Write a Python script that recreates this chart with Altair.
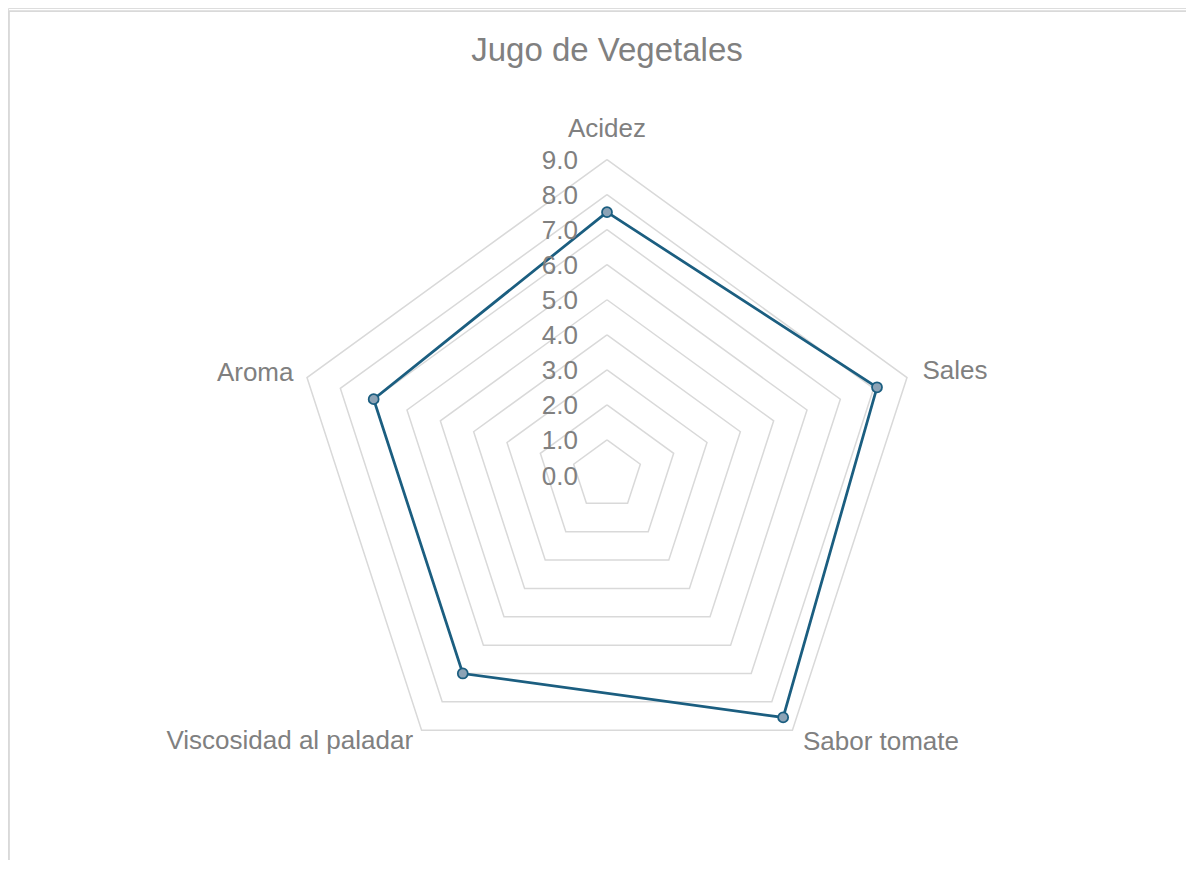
import altair as alt
import pandas as pd

# ---- data ----
categories = ["Acidez", "Sales", "Sabor tomate", "Viscosidad al paladar", "Aroma"]
values = [7.5, 8.1, 8.55, 7.0, 7.0]
grid_levels = [1, 2, 3, 4, 5, 6, 7, 8, 9]
tick_levels = [0, 1, 2, 3, 4, 5, 6, 7, 8, 9]
title_text = "Jugo de Vegetales"

# ---- layout (pixels) ----
W, H = 1178, 852
CX, CY = 599, 467          # centre of radar inside the view
PPU = 35.05                # pixels per unit
N = len(categories)
RMAX = max(grid_levels)

xs = alt.Scale(domain=[-CX / PPU, (W - CX) / PPU], nice=False, zero=False)
ys = alt.Scale(domain=[-(H - CY) / PPU, CY / PPU], nice=False, zero=False)

TEXT = "#808080"
GRID = "#d9d9d9"
LINE = "#1b5e80"
MFILL = "#8ca3b6"
FONT = "Liberation Sans"

ang = f"datum.idx * 2 * PI / {N}"


def enc():
    return dict(
        x=alt.X("x:Q", scale=xs, axis=None),
        y=alt.Y("y:Q", scale=ys, axis=None),
    )


# tables built from the arrays
series_df = pd.DataFrame({
    "cat": categories + [categories[0]],
    "value": values + [values[0]],
    "idx": list(range(N)) + [N],
})
grid_df = pd.DataFrame([{"level": l, "idx": i} for l in grid_levels for i in range(N + 1)])
label_df = pd.DataFrame({"cat": categories, "idx": list(range(N)), "value": [RMAX] * N})
tick_df = pd.DataFrame({"value": tick_levels, "idx": [0] * len(tick_levels)})

grid = alt.Chart(grid_df).transform_calculate(
    x=f"datum.level * sin({ang})", y=f"datum.level * cos({ang})"
).mark_line(color=GRID, strokeWidth=1.5).encode(
    detail="level:N", order=alt.Order("idx:Q"), **enc()
)

series_base = alt.Chart(series_df).transform_calculate(
    x=f"datum.value * sin({ang})", y=f"datum.value * cos({ang})"
)
line = series_base.mark_line(color=LINE, strokeWidth=2.75).encode(
    order=alt.Order("idx:Q"), **enc()
)
points = series_base.transform_filter(f"datum.idx < {N}").mark_point(
    filled=True, fill=MFILL, fillOpacity=1, stroke=LINE, strokeWidth=1.75, size=100, opacity=1
).encode(**enc())

ticks = alt.Chart(tick_df).transform_calculate(
    x="0", y="datum.value", lab="format(datum.value, '.1f')"
).mark_text(
    align="right", baseline="alphabetic", dx=-29, dy=9.5, fontSize=26, font=FONT, color=TEXT
).encode(text="lab:N", **enc())

# category labels, placement per position around the pentagon
label_style = [
    dict(align="center", dx=0, dy=-22.5),
    dict(align="left", dx=15.5, dy=1.5),
    dict(align="left", dx=10.5, dy=20),
    dict(align="right", dx=-8.5, dy=19),
    dict(align="right", dx=-13.5, dy=3),
]
label_layers = []
for i, cat in enumerate(categories):
    st = label_style[i]
    label_layers.append(
        alt.Chart(label_df).transform_filter(f"datum.idx == {i}").transform_calculate(
            x=f"datum.value * sin({ang})", y=f"datum.value * cos({ang})"
        ).mark_text(
            align=st["align"], baseline="alphabetic", dx=st["dx"], dy=st["dy"],
            fontSize=26, font=FONT, color=TEXT
        ).encode(text="cat:N", **enc())
    )

title = alt.Chart(pd.DataFrame({"t": [title_text]})).transform_calculate(
    x="0", y=f"{(CY - 53) / PPU}"
).mark_text(
    align="center", baseline="alphabetic", fontSize=33, font=FONT, color=TEXT
).encode(text="t:N", **enc())

frame_top = alt.Chart(pd.DataFrame({"a": [0]})).mark_rule(color=GRID, strokeWidth=1.75).encode(
    x=alt.value(1), x2=alt.value(W), y=alt.value(3)
)
frame_left = alt.Chart(pd.DataFrame({"a": [0]})).mark_rule(color=GRID, strokeWidth=1.75).encode(
    x=alt.value(1), y=alt.value(3), y2=alt.value(H)
)

chart = alt.layer(
    frame_top, frame_left, grid, line, points, ticks, *label_layers, title
).properties(
    width=W, height=H, padding=0, autosize=alt.AutoSizeParams(type="none")
).configure_view(stroke="transparent", strokeWidth=0).configure(background="white")

chart.save("out.html", embed_options={"renderer": "svg", "actions": False})
